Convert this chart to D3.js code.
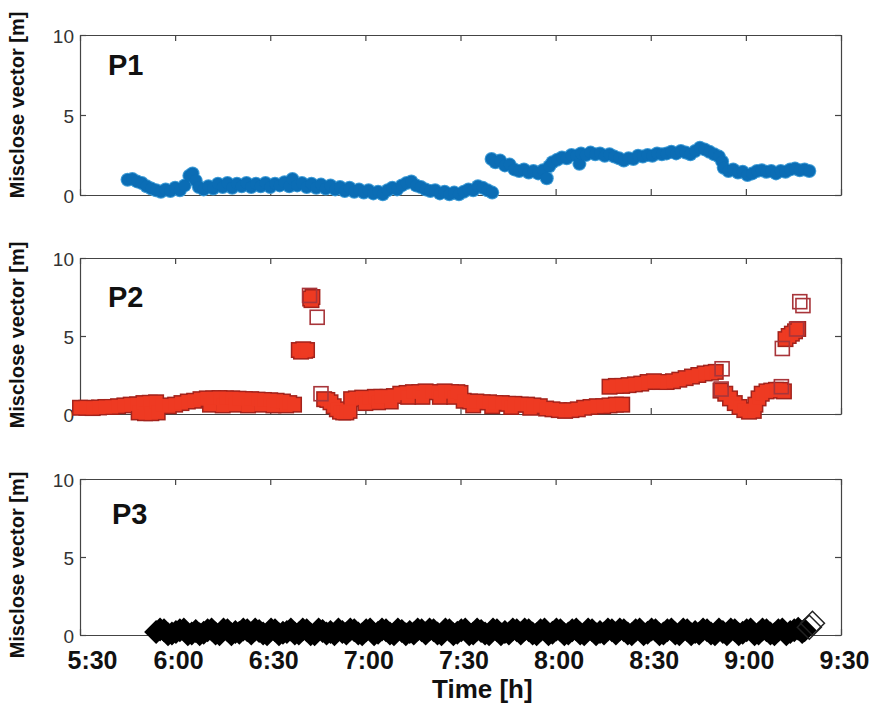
<!DOCTYPE html>
<html>
<head>
<meta charset="utf-8">
<script src="https://cdn.jsdelivr.net/npm/d3@7"></script>
<style>
  body { margin: 0; background: #fff; }
  svg { font-family: "Liberation Sans", Arial, Helvetica, sans-serif; }
</style>
</head>
<body>
<svg id="chart" width="875" height="709"></svg>
<script>
// time is minutes after 5:30, value is misclose vector in metres
const xTicks = [0, 30, 60, 90, 120, 150, 180, 210, 240];
const xTickLabels = ["5:30", "6:00", "6:30", "7:00", "7:30", "8:00", "8:30", "9:00", "9:30"];
const yTicks = [0, 5, 10];

const p1Points = [
  [15,0.95],[16.5,1.0],[18,0.85],[19.5,0.75],[21,0.55],[22.5,0.4],[24,0.3],[25.5,0.2],[27,0.35],[28.5,0.25],
  [30,0.45],[31.5,0.3],[33,0.6],[34.5,1.2],[35.5,1.35],[36.5,0.9],[37.5,0.5],[39,0.35],[40.5,0.55],[42,0.4],
  [43.5,0.7],[45,0.5],[46.5,0.75],[48,0.45],[49.5,0.7],[51,0.55],[52.5,0.75],[54,0.5],[55.5,0.7],[57,0.55],
  [58.5,0.75],[60,0.5],[61.5,0.7],[63,0.6],[64.5,0.8],[66,0.55],[67,1.0],[68.5,0.6],[70,0.75],[71.5,0.5],
  [73,0.7],[74.5,0.45],[76,0.65],[77.5,0.4],[79,0.6],[80.5,0.35],[82,0.5],[83.5,0.25],[85,0.45],[86.5,0.2],
  [88,0.35],[89.5,0.15],[91,0.3],[92.5,0.1],[94,0.2],[95.5,0.05],[97,0.3],[98.5,0.45],[100,0.35],[101.5,0.6],
  [103,0.75],[104.5,0.85],[106,0.6],[107.5,0.5],[109,0.35],[110.5,0.25],[112,0.3],[113.5,0.1],[115,0.2],[116.5,0.05],
  [118,0.15],[119.5,0.05],[121,0.2],[122.5,0.35],[124,0.3],[125.5,0.55],[127,0.45],[128.5,0.3],[130,0.15],
  [129.8,2.25],[131,2.05],[132.5,2.15],[134,1.85],[135.5,1.9],[137,1.6],[138.5,1.5],[140,1.6],[141.5,1.4],[143,1.5],
  [144.5,1.35],[146,1.55],[147.2,1.05],[148,1.8],[149,2.05],[150.5,2.2],[152,2.35],[153.5,2.3],[155,2.5],[156.5,2.45],
  [157.5,1.95],[158,2.6],[159.5,2.5],[161,2.65],[162.5,2.55],[164,2.6],[165.5,2.45],[167,2.55],[168.5,2.4],[170,2.3],
  [171.5,2.15],[173,2.3],[174.5,2.25],[176,2.45],[177.5,2.4],[179,2.5],[180.5,2.45],[182,2.6],[183.5,2.55],[185,2.6],
  [186.5,2.7],[188,2.6],[189.5,2.75],[191,2.65],[192.5,2.55],[194,2.75],[195.5,2.95],[197,2.85],[198.5,2.7],[200,2.55],
  [201.5,2.4],[202.5,2.1],[203,1.7],[204.5,1.5],[206,1.6],[207.5,1.4],[209,1.45],[210.5,1.25],[212,1.35],[213.5,1.5],
  [215,1.55],[216.5,1.45],[218,1.5],[219.5,1.35],[221,1.5],[222.5,1.45],[224,1.6],[225.5,1.65],[227,1.55],[228.5,1.6],
  [230,1.5]
];

// dense (overlapping) squares of P2
const p2Points = [
  [0,0.4],[2,0.4],[4,0.38],[6,0.42],[8,0.45],[10,0.45],[12,0.5],[14,0.55],[16,0.6],[18,0.62],
  [18.5,0.1],[20,0.7],[20.5,0.05],[22,0.72],[22.5,0.05],[24,0.75],[24.5,0.1],[26,0.55],[28,0.5],[30,0.6],
  [32,0.7],[34,0.8],[36,0.85],[38,0.95],[40,1.0],[41,0.6],[42,1.0],[44,1.02],[45,0.55],[46,1.0],
  [48,1.0],[49,0.6],[50,0.98],[52,0.95],[53,0.55],[54,0.95],[56,0.92],[57,0.6],[58,0.9],[60,0.88],
  [61,0.55],[62,0.85],[64,0.8],[65,0.55],[66,0.7],[67.5,0.6],
  [69,4.1],[69.7,4.0],[70.4,4.15],[71,4.05],[71.6,4.1],[72.6,7.4],[73,7.3],[73.3,7.5],
  [77,0.95],[78,0.9],[79,0.75],[80,0.5],[81,0.3],[82,0.15],[83,0.1],[84,0.1],[85,0.2],[85.5,0.95],
  [87,1.0],[89,1.05],[90,0.7],[91,1.0],[93,1.1],[94,0.75],[95,1.1],[97,1.1],[98,0.8],[99,1.15],
  [101,1.3],[103,1.35],[103.5,1.1],[105,1.4],[107,1.4],[108,1.1],[109,1.45],[111,1.4],[113,1.4],[113.5,1.1],
  [115,1.45],[117,1.4],[118,1.1],[119,1.4],[120,1.35],
  [121,0.85],[123,0.8],[124,0.55],[125,0.8],[127,0.75],[129,0.75],[130,0.5],[131,0.7],[133,0.7],[135,0.65],
  [136,0.45],[137,0.65],[139,0.6],[141,0.6],[142,0.4],[143,0.55],[145,0.5],[147,0.35],[149,0.3],[151,0.25],
  [153,0.2],[155,0.25],[157,0.3],[159,0.4],[161,0.45],[163,0.5],[165,0.5],[167,0.55],[169,0.6],[171,0.6],
  [167,1.75],[169,1.8],[171,1.8],[173,1.85],[175,1.9],[177,1.95],[179,2.05],[181,2.1],[183,2.05],[185,2.05],
  [187,2.1],[189,2.2],[191,2.3],[193,2.4],[195,2.5],[197,2.6],[199,2.65],[200.5,2.7],
  [202,1.5],[203.5,1.3],[205,1.0],[206.5,0.7],[208,0.45],[209.5,0.25],[211,0.15],[212.5,0.2],[213,0.6],[214,1.0],
  [215,1.3],[216.5,1.45],[218,1.5],[219.5,1.55],[221,1.55],[222,1.45],
  [222.5,4.8],[223.5,5.0],[224.5,5.15],[225.5,5.3],[226.5,5.45]
];

// isolated open squares of P2
const p2Open = [
  [72.4,7.6],[74.8,6.2],[76,1.3],[202.5,2.9],[202.2,1.6],[221.2,1.75],
  [221.5,4.2],[226,5.45],[227,7.2],[228,6.95]
];

const p3Points = [
  [24,0.2],[26.5,0.3],[29,0.1],[31.5,0.3],[34,0.05],[36.5,0.25],[39,0.15],[41.5,0.35],[44,0.05],[46.5,0.3],
  [49,0.2],[51.5,0.35],[54,0.1],[56.5,0.25],[59,0.05],[61.5,0.3],[64,0.15],[66.5,0.35],[69,0.1],[71.5,0.3],
  [74,0.05],[76.5,0.25],[79,0.2],[81.5,0.35],[84,0.1],[86.5,0.3],[89,0.05],[91.5,0.35],[94,0.15],[96.5,0.3],
  [99,0.05],[101.5,0.25],[104,0.2],[106.5,0.35],[109,0.1],[111.5,0.3],[114,0.05],[116.5,0.3],[119,0.15],[121.5,0.35],
  [124,0.1],[126.5,0.25],[129,0.05],[131.5,0.3],[134,0.2],[136.5,0.35],[139,0.1],[141.5,0.3],[144,0.05],[146.5,0.35],
  [149,0.15],[151.5,0.3],[154,0.1],[156.5,0.35],[159,0.05],[161.5,0.3],[164,0.2],[166.5,0.35],[169,0.1],[171.5,0.3],
  [174,0.05],[176.5,0.35],[179,0.15],[181.5,0.3],[184,0.1],[186.5,0.35],[189,0.05],[191.5,0.3],[194,0.2],[196.5,0.35],
  [199,0.1],[201.5,0.35],[204,0.05],[206.5,0.3],[209,0.15],[211.5,0.35],[214,0.1],[216.5,0.3],[219,0.05],[221.5,0.35],
  [224,0.2],[226.5,0.4],[228.5,0.3]
];
const p3PointsB = [
  [25.25,0.35],[27.75,0.05],[30.25,0.2],[32.75,0.35],[35.25,0.1],[37.75,0.05],[40.25,0.3],[42.75,0.1],[45.25,0.35],[47.75,0.05],
  [50.25,0.15],[52.75,0.3],[55.25,0.35],[57.75,0.1],[60.25,0.35],[62.75,0.05],[65.25,0.2],[67.75,0.1],[70.25,0.35],[72.75,0.05],
  [75.25,0.35],[77.75,0.1],[80.25,0.05],[82.75,0.2],[85.25,0.35],[87.75,0.1],[90.25,0.3],[92.75,0.05],[95.25,0.35],[97.75,0.1],
  [100.25,0.35],[102.75,0.05],[105.25,0.1],[107.75,0.3],[110.25,0.35],[112.75,0.1],[115.25,0.35],[117.75,0.05],[120.25,0.3],[122.75,0.05],
  [125.25,0.35],[127.75,0.1],[130.25,0.35],[132.75,0.05],[135.25,0.1],[137.75,0.3],[140.25,0.35],[142.75,0.1],[145.25,0.3],[147.75,0.05],
  [150.25,0.35],[152.75,0.05],[155.25,0.3],[157.75,0.1],[160.25,0.35],[162.75,0.05],[165.25,0.1],[167.75,0.3],[170.25,0.35],[172.75,0.1],
  [175.25,0.3],[177.75,0.05],[180.25,0.35],[182.75,0.05],[185.25,0.3],[187.75,0.1],[190.25,0.35],[192.75,0.05],[195.25,0.1],[197.75,0.3],
  [200.25,0.05],[202.75,0.2],[205.25,0.35],[207.75,0.05],[210.25,0.3],[212.75,0.05],[215.25,0.35],[217.75,0.1],[220.25,0.3],[222.75,0.05],
  [225.25,0.3],[227.75,0.2]
];
const p3Open = [[230,0.5],[231,0.75]];

const panels = [
  {name: "P1", top: 35,  bottom: 195, nameX: 108, nameY: 75,  titleY: 105},
  {name: "P2", top: 258, bottom: 414, nameX: 108, nameY: 307, titleY: 335},
  {name: "P3", top: 479, bottom: 635, nameX: 112, nameY: 524, titleY: 565}
];

const svg = d3.select("#chart");
const x = d3.scaleLinear().domain([0, 240]).range([80, 841]);
const axisColor = "#444";

panels.forEach(function(p, pi) {
  const y = d3.scaleLinear().domain([0, 10]).range([p.bottom, p.top]);
  const g = svg.append("g");

  // box and inward ticks
  const bottomAxis = d3.axisBottom(x).tickValues(xTicks).tickSize(-6).tickSizeOuter(0).tickPadding(16)
    .tickFormat((d, i) => pi === 2 ? xTickLabels[i] : "");
  const topAxis = d3.axisTop(x).tickValues(xTicks).tickSize(-6).tickSizeOuter(0).tickFormat("");
  const leftAxis = d3.axisLeft(y).tickValues(yTicks).tickSize(-6).tickSizeOuter(0).tickPadding(6);
  const rightAxis = d3.axisRight(y).tickValues(yTicks).tickSize(-6).tickSizeOuter(0).tickFormat("");

  const axes = [
    g.append("g").attr("transform", `translate(0,${p.bottom})`).call(bottomAxis),
    g.append("g").attr("transform", `translate(0,${p.top})`).call(topAxis),
    g.append("g").attr("transform", "translate(80,0)").call(leftAxis),
    g.append("g").attr("transform", "translate(841,0)").call(rightAxis)
  ];
  axes.forEach(a => {
    a.selectAll("path, line").attr("stroke", axisColor).attr("stroke-width", 1.2);
  });
  axes[2].selectAll("text").attr("font-size", 19).attr("fill", "#333")
    .attr("font-family", "Liberation Sans, Arial, sans-serif").attr("dy", "0.4em");
  if (pi === 2) {
    axes[0].selectAll("text").attr("font-size", 25).attr("font-weight", "bold").attr("fill", "#111")
      .attr("font-family", "Liberation Sans, Arial, sans-serif")
      .attr("dx", (d, i) => i === 0 ? 12 : 3);
  }

  // panel name
  g.append("text").attr("x", p.nameX).attr("y", p.nameY)
    .attr("font-size", 29).attr("font-weight", "bold").attr("fill", "#111").text(p.name);

  // y title
  g.append("text").attr("transform", `translate(24,${p.titleY}) rotate(-90)`)
    .attr("text-anchor", "middle").attr("font-size", 20).attr("font-weight", "bold").attr("fill", "#111")
    .text("Misclose vector [m]");

  const marks = g.append("g");
  if (pi === 0) {
    marks.append("g").selectAll("circle").data(p1Points).join("circle")
      .attr("cx", d => x(d[0])).attr("cy", d => y(d[1])).attr("r", 7).attr("fill", "#3f9cd6");
    marks.append("g").selectAll("circle").data(p1Points).join("circle")
      .attr("cx", d => x(d[0])).attr("cy", d => y(d[1])).attr("r", 6).attr("fill", "#0b6db5");
  } else if (pi === 1) {
    const s = 14;
    marks.append("g").selectAll("rect").data(p2Points).join("rect")
      .attr("x", d => x(d[0]) - s / 2 - 1).attr("y", d => y(d[1]) - s / 2 - 1)
      .attr("width", s + 2).attr("height", s + 2).attr("fill", "#a3231c");
    marks.append("g").selectAll("rect").data(p2Points).join("rect")
      .attr("x", d => x(d[0]) - s / 2 + 0.5).attr("y", d => y(d[1]) - s / 2 + 0.5)
      .attr("width", s - 1).attr("height", s - 1).attr("fill", "#ee3a22");
    marks.append("g").selectAll("rect").data(p2Open).join("rect")
      .attr("x", d => x(d[0]) - s / 2).attr("y", d => y(d[1]) - s / 2)
      .attr("width", s).attr("height", s).attr("fill", "none")
      .attr("stroke", "#a8353a").attr("stroke-width", 1.6);
  } else {
    const diamond = "M-12,0L0,-12L12,0L0,12Z";
    marks.append("g").selectAll("path").data(p3Points.concat(p3PointsB)).join("path")
      .attr("transform", d => `translate(${x(d[0])},${y(d[1])})`)
      .attr("d", diamond).attr("fill", "#000");
    marks.append("g").selectAll("path").data(p3Open).join("path")
      .attr("transform", d => `translate(${x(d[0])},${y(d[1])})`)
      .attr("d", diamond).attr("fill", "none").attr("stroke", "#222").attr("stroke-width", 1.5);
  }
});

// x title
svg.append("text").attr("x", 432).attr("y", 698)
  .attr("font-size", 26).attr("font-weight", "bold").attr("fill", "#111").text("Time [h]");
</script>
</body>
</html>
